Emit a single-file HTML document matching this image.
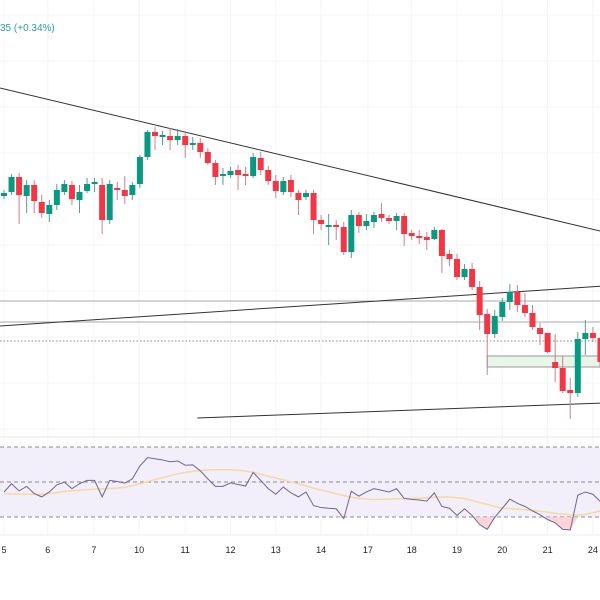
<!DOCTYPE html>
<html><head><meta charset="utf-8"><style>
html,body{margin:0;padding:0;background:#fff;}
svg{display:block;font-family:"Liberation Sans",sans-serif;}
</style></head><body>
<svg id="chart" width="600" height="600" viewBox="0 0 600 600" xmlns="http://www.w3.org/2000/svg">
<rect width="600" height="600" fill="#ffffff"/>
<g id="grid"></g>
<text x="0" y="31" font-size="10" fill="#26a69a">35 (+0.34%)</text>
<g id="drawings"></g>
<g id="candles"></g>
<g id="rsi"></g>
<g id="xaxis"></g>
</svg>
<script>
const opens=[804,808,823,804,815,798,786,795,808,815,800,809,816,815,780,812,810,805,816,843,868,863,864,860,864,855,857,848,837,824,825,830,826,824,842,830,819,808,820,807,803,807,780,773,775,773,748,785,774,778,786,782,779,784,767,764,763,761,770,746,741,723,731,713,686,666,683,698,708,695,687,672,667,638,632,610,607,661,667,662];
const highs=[810,826,827,820,820,805,800,816,820,819,815,822,822,822,820,818,824,818,845,870,873,869,872,871,869,863,862,852,840,832,833,835,833,847,848,834,825,823,825,810,810,810,785,786,780,778,790,788,786,788,797,785,787,787,770,770,768,773,771,750,746,736,737,719,691,690,702,716,715,707,695,677,667,666,644,622,668,680,673,667];
const lows=[801,805,776,787,787,782,778,790,805,795,787,807,808,766,776,800,796,800,812,840,850,855,850,855,842,850,842,835,815,815,822,810,815,822,825,815,802,805,803,785,800,766,770,755,760,745,742,767,770,772,778,776,770,754,760,756,750,760,727,734,720,720,710,670,625,662,679,690,688,683,670,655,647,618,607,581,603,645,658,635];
const closes=[807,823,805,815,799,787,795,810,816,801,808,816,818,780,816,810,804,815,843,868,864,865,860,864,855,857,848,837,823,826,829,825,824,843,830,819,809,819,808,800,807,780,776,775,773,748,785,774,779,785,782,779,784,766,764,762,760,770,744,741,723,731,713,685,666,684,698,708,695,687,673,666,648,632,609,607,661,667,662,638];
const rsiValues=[44.3,49.0,44.9,47.5,43.4,41.5,44.3,48.4,49.9,46.2,49.0,50.9,50.9,41.5,50.9,50.3,49.4,51.8,59.2,63.9,63.3,62.6,61.6,62.0,59.6,59.8,56.4,51.8,47.5,47.5,49.5,48.6,47.7,55.5,50.9,46.2,43.0,47.1,43.8,41.5,44.3,36.5,35.4,35.0,34.7,29.1,44.7,41.9,44.3,46.2,45.3,44.3,46.2,40.6,40.1,39.7,39.1,43.8,36.0,35.0,30.9,34.7,30.9,25.7,22.9,29.8,35.0,40.2,37.8,36.0,33.5,31.3,28.5,26.7,22.9,22.6,42.5,44.3,43.0,38.8];
const rsiMA=[43.4,43.2,43.1,43.0,42.9,42.9,43.5,44.0,44.6,45.0,45.3,45.6,45.9,46.1,46.3,46.5,47.0,47.9,49.0,50.2,51.4,52.5,53.6,54.6,55.4,56.1,56.6,56.9,57.0,57.0,57.0,56.8,56.2,55.5,54.5,53.3,52.3,51.2,50.1,49.0,47.8,46.5,45.4,44.4,43.3,42.3,41.3,40.7,40.2,40.0,40.1,40.2,40.4,40.5,40.7,40.8,41.0,41.2,41.4,41.4,41.0,40.6,39.5,38.2,37.2,36.0,35.0,34.8,34.6,34.2,33.8,33.3,32.8,32.0,31.7,31.3,31.0,31.5,32.5,33.5];
const dateLabels=["5","6","7","10","11","12","13","14","17","18","19","20","21","24"];
const dateIndex=[0,5.8,11.9,17.9,24,30,36,42,48.2,54,60,66,72,78];
const hLevels=[699,678,659];
const NS="http://www.w3.org/2000/svg";
const xS=i=>4+i*7.55;
const yS=p=>1000-p;
const rY=v=>517-(v-30)*70/40;
function mk(tag,attrs,parent){const e=document.createElementNS(NS,tag);for(const k in attrs)e.setAttribute(k,attrs[k]);parent.appendChild(e);return e;}
const grid=document.getElementById('grid');
for(let k=0;k<dateIndex.length;k++){
  const l=mk('line',{x1:xS(dateIndex[k]),x2:xS(dateIndex[k]),y1:0,y2:535,stroke:'#f3f4f7','stroke-width':1},grid);
  
  
}
for(let y=15;y<430;y+=46){
  const l=mk('line',{x1:0,x2:600,y1:y,y2:y,stroke:'#f3f4f7','stroke-width':1},grid);
  
  
}
const dr=document.getElementById('drawings');
hLevels.forEach((p,k)=>{
  const l=mk('line',{x1:0,x2:600,y1:yS(p),y2:yS(p),stroke:k==2?'#888':'#aaa','stroke-width':1,'stroke-dasharray':k==2?'1.5,2':'none'},dr);
  
  
});
const zone=mk('rect',{x:xS(64),y:yS(644),width:600-xS(64),height:11,fill:'#e8f5e9',stroke:'#999','stroke-width':1},dr);


const trends=[[-0.53,912,79.5,768],[-0.53,674,79.5,714],[25.6,582,79.5,597]];
trends.forEach(t=>{
  const l=mk('line',{x1:xS(t[0]),y1:yS(t[1]),x2:xS(t[2]),y2:yS(t[3]),stroke:'#333','stroke-width':1},dr);
  
  
});
const cg=document.getElementById('candles');
for(let i=0;i<opens.length;i++){
  const up=closes[i]>=opens[i];
  const col=up?'#089981':'#f23645';
  const x=xS(i);
  const w=mk('line',{x1:x,x2:x,y1:yS(highs[i]),y2:yS(lows[i]),stroke:up?'#5a9c8e':'#c9818a','stroke-width':1},cg);
  
  
  const t=yS(Math.max(opens[i],closes[i])),b=yS(Math.min(opens[i],closes[i]));
  const r=mk('rect',{x:x-3,y:t,width:6,height:Math.max(1.5,b-t),fill:col},cg);
  
  
}
const rg=document.getElementById('rsi');
const sep=mk('line',{x1:0,x2:600,y1:437,y2:437,stroke:'#e6e6ea','stroke-width':1},rg);


const band=mk('rect',{x:0,y:rY(70),width:600,height:rY(30)-rY(70),fill:'#f2effb'},rg);


[70,50,30].forEach(v=>{
  const l=mk('line',{x1:0,x2:600,y1:rY(v),y2:rY(v),stroke:'#8a8a94','stroke-width':1,'stroke-dasharray':'4,3'},rg);
  
  
});
let d='M'+xS(0)+','+rY(30);
rsiValues.forEach((v,i)=>{d+=' L'+xS(i)+','+rY(Math.min(v,30));});
d+=' L'+xS(rsiValues.length-1)+','+rY(30)+' Z';
const of=mk('path',{d:d,fill:'#f7c9d0',opacity:0.8},rg);


const ma=mk('polyline',{points:rsiMA.map((v,i)=>xS(i)+','+rY(v)).join(' '),fill:'none',stroke:'#f5d9a0','stroke-width':1.5},rg);


const rl=mk('polyline',{points:rsiValues.map((v,i)=>xS(i)+','+rY(v)).join(' '),fill:'none',stroke:'#6e6690','stroke-width':1},rg);


const xa=document.getElementById('xaxis');
const ab=mk('line',{x1:0,x2:600,y1:535,y2:535,stroke:'#eeeeee','stroke-width':1},xa);


dateLabels.forEach((s,k)=>{
  const t=mk('text',{x:xS(dateIndex[k]),y:553,'font-size':9,fill:'#222','text-anchor':'middle'},xa);
  t.textContent=s;
  
  
});
</script>
</body></html>
